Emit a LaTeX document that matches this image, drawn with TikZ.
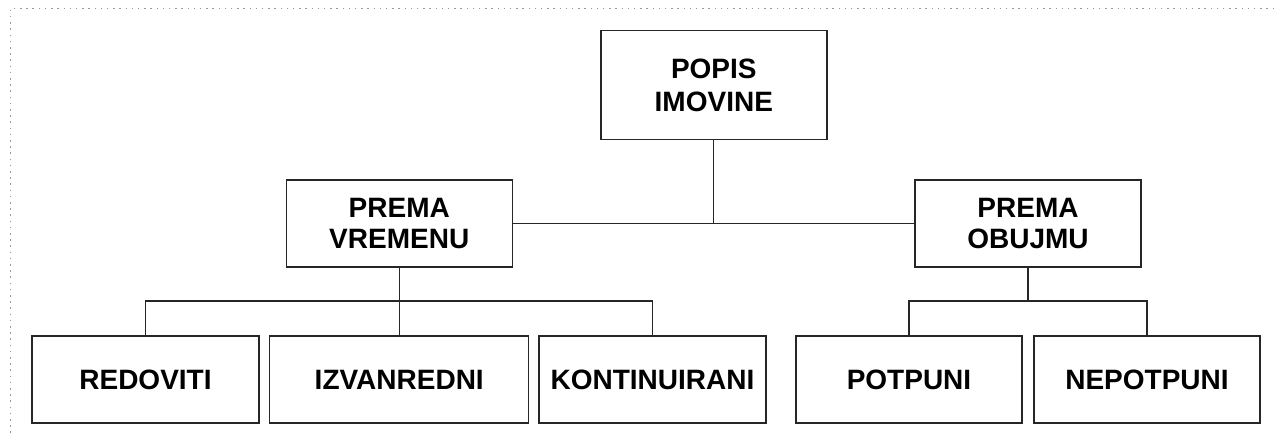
\documentclass[tikz,border=0pt]{standalone}
\usepackage{fontspec}
\setmainfont{Liberation Sans}
\begin{document}
\begin{tikzpicture}[x=1pt,y=-1pt,
  box/.style={draw=black!85,line width=1.4pt,rectangle,inner sep=0pt,align=center,
    font=\bfseries\fontsize{28}{31}\selectfont,minimum height=87pt},
  link/.style={draw=black!85,line width=1.2pt},
  frameline/.style={draw=black!40,line width=1pt,dash pattern=on 1.5pt off 4.7pt}]
\useasboundingbox (0,0) rectangle (1274,436);
\coordinate (f0) at (10,9);
\coordinate (f1) at (1274,9);
\coordinate (f2) at (10,436);
\draw[frameline] (f1) -- (f0) -- (f2);
\node[box,minimum width=226pt,minimum height=108.6pt,font=\bfseries\fontsize{28}{33}\selectfont] (top) at (713.8,85) {POPIS\\IMOVINE};
\node[box,minimum width=226pt] (pv) at (399.25,223.5) {PREMA\\VREMENU};
\node[box,minimum width=226pt] (po) at (1028,223.5) {PREMA\\OBUJMU};
\node[box,minimum width=227pt] (red) at (145.5,379.5) {REDOVITI};
\node[box,minimum width=259pt] (izv) at (399.25,379.5) {IZVANREDNI};
\node[box,minimum width=227pt] (kon) at (652.5,379.5) {KONTINUIRANI};
\node[box,minimum width=226pt] (pot) at (909,379.5) {POTPUNI};
\node[box,minimum width=226pt] (nep) at (1147,379.5) {NEPOTPUNI};
\coordinate (bv) at (399.25,301);
\coordinate (bo) at (1028,301);
\draw[link] (pv.east) -- (po.west);
\draw[link] (top.south) -- (top.south |- pv.east);
\draw[link] (pv.south) -- (izv.north);
\draw[link] (red.north) |- (bv) -| (kon.north);
\draw[link] (po.south) -- (bo);
\draw[link] (pot.north) |- (bo) -| (nep.north);
\end{tikzpicture}
\end{document}
